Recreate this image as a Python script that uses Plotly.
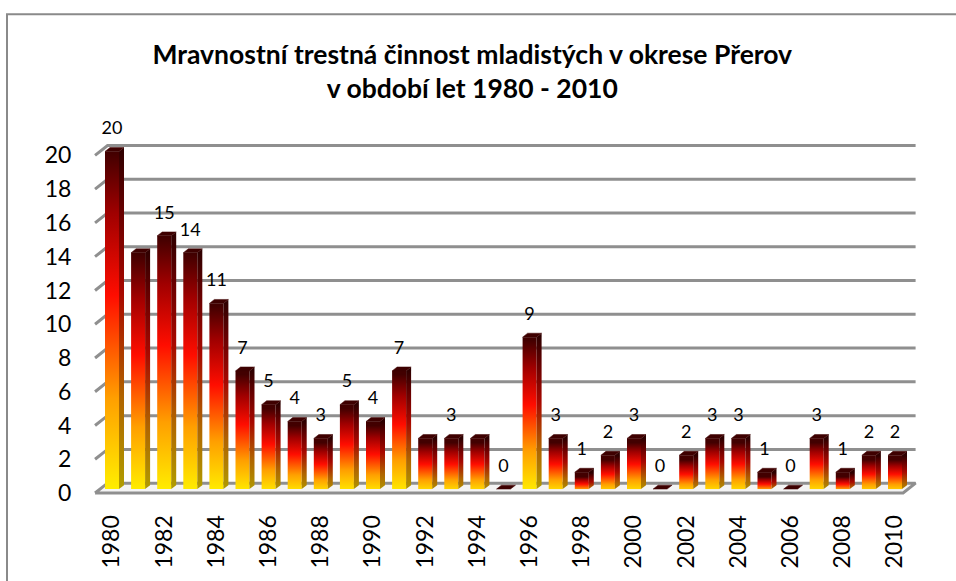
import plotly.graph_objects as go

# ---------------- data ----------------
years = list(range(1980, 2011))
values = [20, 14, 15, 14, 11, 7, 5, 4, 3, 5, 4, 7, 3, 3, 3, 0, 9, 3, 1, 2, 3, 0, 2, 3, 3, 1, 0, 3, 1, 2, 2]
hidden_label_years = [1981, 1992, 1994]
y_ticks = [0, 2, 4, 6, 8, 10, 12, 14, 16, 18, 20]
x_ticks = list(range(1980, 2011, 2))
title_text = "Mravnostní trestná činnost mladistých v okrese Přerov<br>v období let 1980 - 2010"

# ---------------- geometry / style ----------------
W, H = 956, 581
ML, MR, MT, MB = 90, 31, 110, 81
PW, PH = W - ML - MR, H - MT - MB
PX_PER_YEAR = 26.1
PX_PER_UNIT = 17.1
X_RANGE = [1979.157, 1979.157 + PW / PX_PER_YEAR]
Y_RANGE = [-0.117, -0.117 + PH / PX_PER_UNIT]
pxx, pxy = PX_PER_YEAR, PX_PER_UNIT

half_w = 7 / pxx          # half width of bar front face
side_dx = 5 / pxx         # depth offset of the bar (x)
side_dy = 4 / pxy         # depth offset of the bar (y)
base = 4 / pxy            # bar base above front floor
wall_dx = 12.5 / pxx      # wall depth offset
wall_dy = 10 / pxy
floor_x0 = 1979.35
floor_x1 = 2010.31

front_scale = [[0, "#fff200"], [0.28, "#ff9f00"], [0.58, "#ff0d00"], [0.82, "#a00000"], [1, "#420000"]]
side_scale = [[0, "#b0a000"], [0.28, "#b06400"], [0.58, "#a80800"], [0.82, "#660000"], [1, "#2e0000"]]
top_color = "#3e0000"
grid_color = "#8f8f8f"

fig = go.Figure()

# floor
fig.add_trace(go.Scatter(
    x=[floor_x0, floor_x1, floor_x1 + wall_dx, floor_x0 + wall_dx, floor_x0],
    y=[0, 0, wall_dy, wall_dy, 0],
    mode="lines", fill="toself", fillcolor="#f4f4f4",
    line=dict(color=grid_color, width=3), hoverinfo="skip", showlegend=False))

# back-wall gridlines and slanted tick marks
for v in y_ticks[1:]:
    fig.add_trace(go.Scatter(
        x=[floor_x0, floor_x0 + wall_dx, floor_x1 + wall_dx],
        y=[v, v + wall_dy, v + wall_dy],
        mode="lines", line=dict(color=grid_color, width=3),
        hoverinfo="skip", showlegend=False))

# bars
for yr, v in zip(years, values):
    x0, x1 = yr - half_w, yr + half_w
    b, t = base, base + v
    if v > 0:
        # front face
        fig.add_trace(go.Scatter(
            x=[x0, x1, x1, x0, x0], y=[b, b, t, t, b], mode="lines",
            fill="toself", line=dict(width=0),
            fillgradient=dict(type="vertical", colorscale=front_scale, start=b, stop=t),
            hoverinfo="skip", showlegend=False))
        # side face
        fig.add_trace(go.Scatter(
            x=[x1, x1 + side_dx, x1 + side_dx, x1, x1],
            y=[b, b + side_dy, t + side_dy, t, b], mode="lines",
            fill="toself", line=dict(width=0),
            fillgradient=dict(type="vertical", colorscale=side_scale, start=b, stop=t + side_dy),
            hoverinfo="skip", showlegend=False))
    # top face
    fig.add_trace(go.Scatter(
        x=[x0, x1, x1 + side_dx, x0 + side_dx, x0],
        y=[t, t, t + side_dy, t + side_dy, t], mode="lines",
        fill="toself", fillcolor=top_color, line=dict(width=0.5, color=top_color),
        hoverinfo="skip", showlegend=False))

# data labels
lab_x = [yr for yr in years if yr not in hidden_label_years]
lab_v = [v for yr, v in zip(years, values) if yr not in hidden_label_years]
fig.add_trace(go.Scatter(
    x=lab_x, y=[v + base + 22 / pxy for v in lab_v], mode="text",
    text=[str(v) for v in lab_v], textposition="middle center",
    textfont=dict(family="Lato", size=18, color="#000000"),
    cliponaxis=False, hoverinfo="skip", showlegend=False))

# chart border
def px_to_paper_x(px):
    return (px - ML) / PW

def py_to_paper_y(py):
    return (H - MB - py) / PH

fig.add_shape(type="rect", xref="paper", yref="paper",
              x0=px_to_paper_x(7), x1=px_to_paper_x(975),
              y0=py_to_paper_y(600), y1=py_to_paper_y(13),
              line=dict(color="#8a8a8a", width=2), layer="below")

fig.update_layout(
    width=W, height=H,
    margin=dict(l=ML, r=MR, t=MT, b=MB),
    paper_bgcolor="white", plot_bgcolor="white",
    title=dict(text=title_text, x=0.494, xref="container", xanchor="center",
               y=1 - 64 / H, yref="container", yanchor="middle",
               font=dict(family="Lato", size=26.5, color="#000000", weight="bold")),
    font=dict(family="Lato", color="#000000"),
    xaxis=dict(range=X_RANGE, showgrid=False, zeroline=False, showline=False,
               tickmode="array", tickvals=x_ticks, ticktext=[str(y) for y in x_ticks],
               tickangle=-90, ticks="outside", ticklen=10, tickcolor="rgba(0,0,0,0)",
               tickfont=dict(family="Lato", size=23, color="#000000")),
    yaxis=dict(range=Y_RANGE, showgrid=False, zeroline=False, showline=False,
               tickmode="array", tickvals=y_ticks, ticktext=[str(v) for v in y_ticks],
               ticks="outside", ticklen=13, tickcolor="rgba(0,0,0,0)",
               tickfont=dict(family="Lato", size=23, color="#000000")),
)

fig.write_html("out.html", config={"displayModeBar": False},
               post_script="document.body.style.margin='0px';")
